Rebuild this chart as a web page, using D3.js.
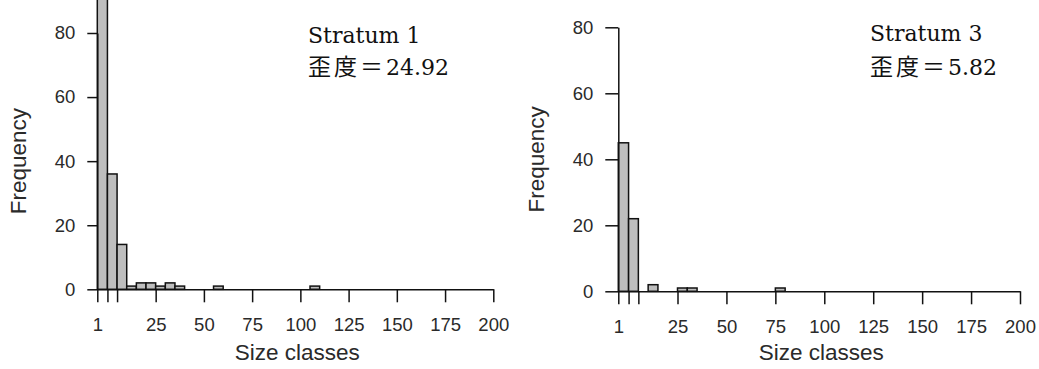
<!DOCTYPE html>
<html>
  <head>
    <meta charset="utf-8">
    <title>Size class histograms</title>
    <script src="https://d3js.org/d3.v7.min.js"></script>
    <style>
      body { margin: 0; background: #fff; }
      .tick text { font-family: "Liberation Sans", Arial, sans-serif; font-size: 18.5px; fill: #2a2a2a; }
      .axisTitle { font-family: "Liberation Sans", Arial, sans-serif; font-size: 22.5px; fill: #2a2a2a; }
      .note { font-family: "DejaVu Serif", serif; font-size: 22px; fill: #111; }
      .note .cjk { font-family: "Noto Sans CJK JP", sans-serif; font-size: 23px; letter-spacing: 3px; }
    </style>
  </head>
  <body>
    <script>
      // bin edges of the size classes (first class is the "1" class)
      var binEdges = [-5.25, 0, 5, 10, 15, 20, 25, 30, 35, 40, 45, 50, 55, 60, 65, 70, 75, 80, 85, 90, 95, 100, 105, 110];
      var stratum1Counts = [95, 36, 14, 1, 2, 2, 1, 2, 1, 0, 0, 0, 1, 0, 0, 0, 0, 0, 0, 0, 0, 0, 1];
      var stratum3Counts = [45, 22, 0, 2, 0, 0, 1, 1, 0, 0, 0, 0, 0, 0, 0, 0, 1, 0, 0, 0, 0, 0, 0];

      var xTickValues = [-5.25, 0, 5, 25, 50, 75, 100, 125, 150, 175, 200];
      var xTickLabels = ["1", "", "", "25", "50", "75", "100", "125", "150", "175", "200"];
      var yTickValues = [0, 20, 40, 60, 80];

      var panelNames = ["Stratum 1", "Stratum 3"];
      var skewValues = ["24.92", "5.82"];

      var width = 1039;
      var height = 369;

      var svg = d3.select("body")
        .append("svg")
        .attr("width", width)
        .attr("height", height);

      var panels = [
        {counts: stratum1Counts, left: 97.3, right: 493.3, y0: 289.3, y80: 33, yTick: 10, yLab: 26, note: [308, 42.7, 75]},
        {counts: stratum3Counts, left: 618.3, right: 1020, y0: 291.3, y80: 27.3, yTick: 13, yLab: 544, note: [870, 40.7, 75]}
      ];

      panels.forEach(function(p, i) {
        var xScale = d3.scaleLinear()
          .domain([-5.25, 200])
          .range([p.left, p.right]);

        var yScale = d3.scaleLinear()
          .domain([0, 80])
          .range([p.y0, p.y80]);

        var bins = p.counts.map(function(c, k) {
          return {x0: binEdges[k], x1: binEdges[k + 1], n: c};
        }).filter(function(d) { return d.n > 0; });

        var g = svg.append("g");

        g.selectAll("rect")
          .data(bins)
          .enter()
          .append("rect")
            .attr("x", function(d) { return xScale(d.x0); })
            .attr("y", function(d) { return yScale(d.n); })
            .attr("width", function(d) { return xScale(d.x1) - xScale(d.x0); })
            .attr("height", function(d) { return yScale(0) - yScale(d.n); })
            .attr("fill", "#bebebe")
            .attr("stroke", "#111")
            .attr("stroke-width", 1.5);

        var xAxis = g.append("g")
          .attr("transform", `translate(0,${p.y0})`)
          .call(d3.axisBottom(xScale)
            .tickValues(xTickValues)
            .tickFormat(function(d, k) { return xTickLabels[k]; })
            .tickSize(13)
            .tickSizeOuter(0)
            .tickPadding(16));

        var yAxis = g.append("g")
          .attr("transform", `translate(${p.left},0)`)
          .call(d3.axisLeft(yScale)
            .tickValues(yTickValues)
            .tickSize(p.yTick)
            .tickSizeOuter(0)
            .tickPadding(12));

        g.selectAll(".domain, .tick line")
          .attr("stroke", "#111")
          .attr("stroke-width", 1.5);

        g.append("text")
          .attr("class", "axisTitle")
          .attr("text-anchor", "middle")
          .attr("x", (p.left + p.right) / 2 + 2)
          .attr("y", 360)
          .text("Size classes");

        g.append("text")
          .attr("class", "axisTitle")
          .attr("text-anchor", "middle")
          .attr("transform", `translate(${p.yLab},${(p.y0 + p.y80) / 2}) rotate(-90)`)
          .text("Frequency");

        g.append("text")
          .attr("class", "note")
          .attr("x", p.note[0])
          .attr("y", p.note[1])
          .text(panelNames[i]);

        var skew = g.append("text")
          .attr("class", "note")
          .attr("x", p.note[0])
          .attr("y", p.note[2]);
        skew.append("tspan").attr("class", "cjk").text("歪度＝");
        skew.append("tspan").text(skewValues[i]);
      });
    </script>
  </body>
</html>
